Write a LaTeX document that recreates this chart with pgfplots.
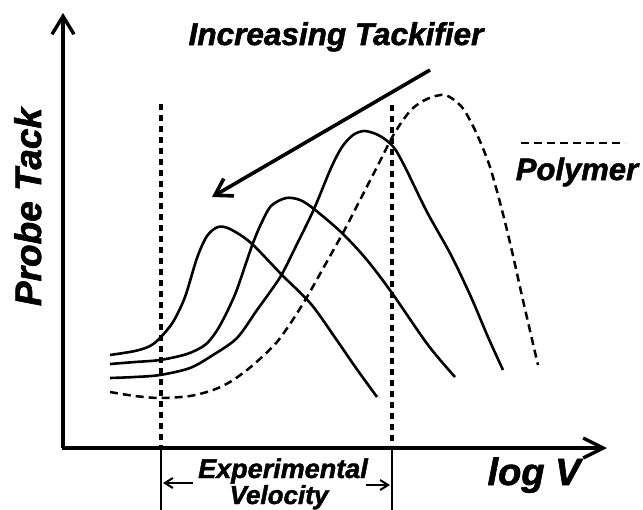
\documentclass[border=0pt]{standalone}
\usepackage{fontspec}
\setmainfont{Liberation Sans}
\newfontfamily\heavy[FakeBold=1.6]{Liberation Sans Bold Italic}
\usepackage{pgfplots}
\pgfplotsset{compat=1.18}
\usetikzlibrary{arrows.meta}
\newcommand{\lab}[1]{\fontsize{#1}{#1}\heavy}
\begin{document}
\begin{tikzpicture}
\begin{axis}[at={(0,0)},anchor=south west,
  width=643bp,height=510bp,scale only axis,
  xmin=0,xmax=643,ymin=0,ymax=510,y dir=reverse,
  axis lines=none,clip=false]
% axes
\addplot[black,line width=3.4bp,-{Straight Barb[length=18bp,width=22bp]}] coordinates {(63,448)(63,13)};
\addplot[black,line width=3.4bp,-{Straight Barb[length=20bp,width=20bp]}] coordinates {(62,448)(607,448)};
% velocity window
\addplot[black,line width=3.2bp,dash pattern=on 6bp off 5bp] coordinates {(161,104)(161,448)};
\addplot[black,line width=3.2bp,dash pattern=on 6bp off 5bp] coordinates {(392,105)(392,448)};
\addplot[black,line width=2.8bp] coordinates {(161,448)(161,515)};
\addplot[black,line width=2.8bp] coordinates {(392,448)(392,515)};
\addplot[black,line width=2bp,-{Straight Barb[length=8bp,width=10bp]}] coordinates {(193,483)(163,483)};
\addplot[black,line width=2bp,-{Straight Barb[length=8bp,width=10bp]}] coordinates {(366,485)(390,485)};
% tackifier arrow
\addplot[black,line width=3.6bp,-{Straight Barb[length=16bp,width=20bp]}] coordinates {(430,70)(212,197)};
% curve 1
\addplot[black,line width=2.6bp,smooth,tension=0.5] coordinates {
(110,355)(135,351)(150,346)(160,338)(173,322)(185,297)(197,258)(207,236)(218,227)(230,229)(251,243)(282,275)(311,304)(336,339)(356,368)(377,397)};
% curve 2
\addplot[black,line width=2.6bp,smooth,tension=0.5] coordinates {
(110,364)(135,362)(160,360)(187,354)(205,345)(216,332)(226,314)(236,292)(245,266)(253,243)(261,224)(271,206)(286,198)(300,200)(314,209)(342,233)(367,260)(392,293)(428,345)(455,377)};
% curve 3
\addplot[black,line width=2.6bp,smooth,tension=0.5] coordinates {
(110,378)(135,377)(160,375)(190,368)(213,355)(237,338)(257,310)(270,292)(282,274)(298,242)(314,209)(331,168)(342,147)(353,135)(364,131)(376,134)(386,140)(395,149)(406,169)(427,212)(451,255)(471,297)(488,337)(503,370)};
% polymer
\addplot[black,line width=2.5bp,dash pattern=on 8bp off 5bp,smooth,tension=0.5] coordinates {
(110,392)(135,396)(160,398)(190,396)(213,390)(230,382)(247,370)(262,357)(277,342)(292,321)(307,297)(325,265)(344,231)(360,200)(377,167)(394,134)(411,110)(427,99)(445,95)(461,106)(472,124)(482,146)(490,167)(498,195)(506,226)(514,260)(522,296)(531,335)(538,365)};
% legend sample
\addplot[black,line width=2.5bp,dash pattern=on 8bp off 5bp] coordinates {(521,143)(625,143)};
% labels
\node[anchor=base,inner sep=0] at (axis cs:336,45) {\lab{31.5bp}Increasing Tackifier};
\node[anchor=base,inner sep=0,rotate=90] at (axis cs:41,207) {\lab{37bp}Probe Tack};
\node[anchor=base,inner sep=0] at (axis cs:577,180) {\lab{31bp}Polymer};
\node[anchor=base,inner sep=0] at (axis cs:534,485) {\lab{38bp}log V};
\node[anchor=base,inner sep=0] at (axis cs:283,478) {\lab{27bp}Experimental};
\node[anchor=base,inner sep=0] at (axis cs:279,504) {\lab{26bp}Velocity};
\end{axis}
\pgfresetboundingbox
\path (0,0) rectangle (643bp,510bp);
\end{tikzpicture}
\end{document}
